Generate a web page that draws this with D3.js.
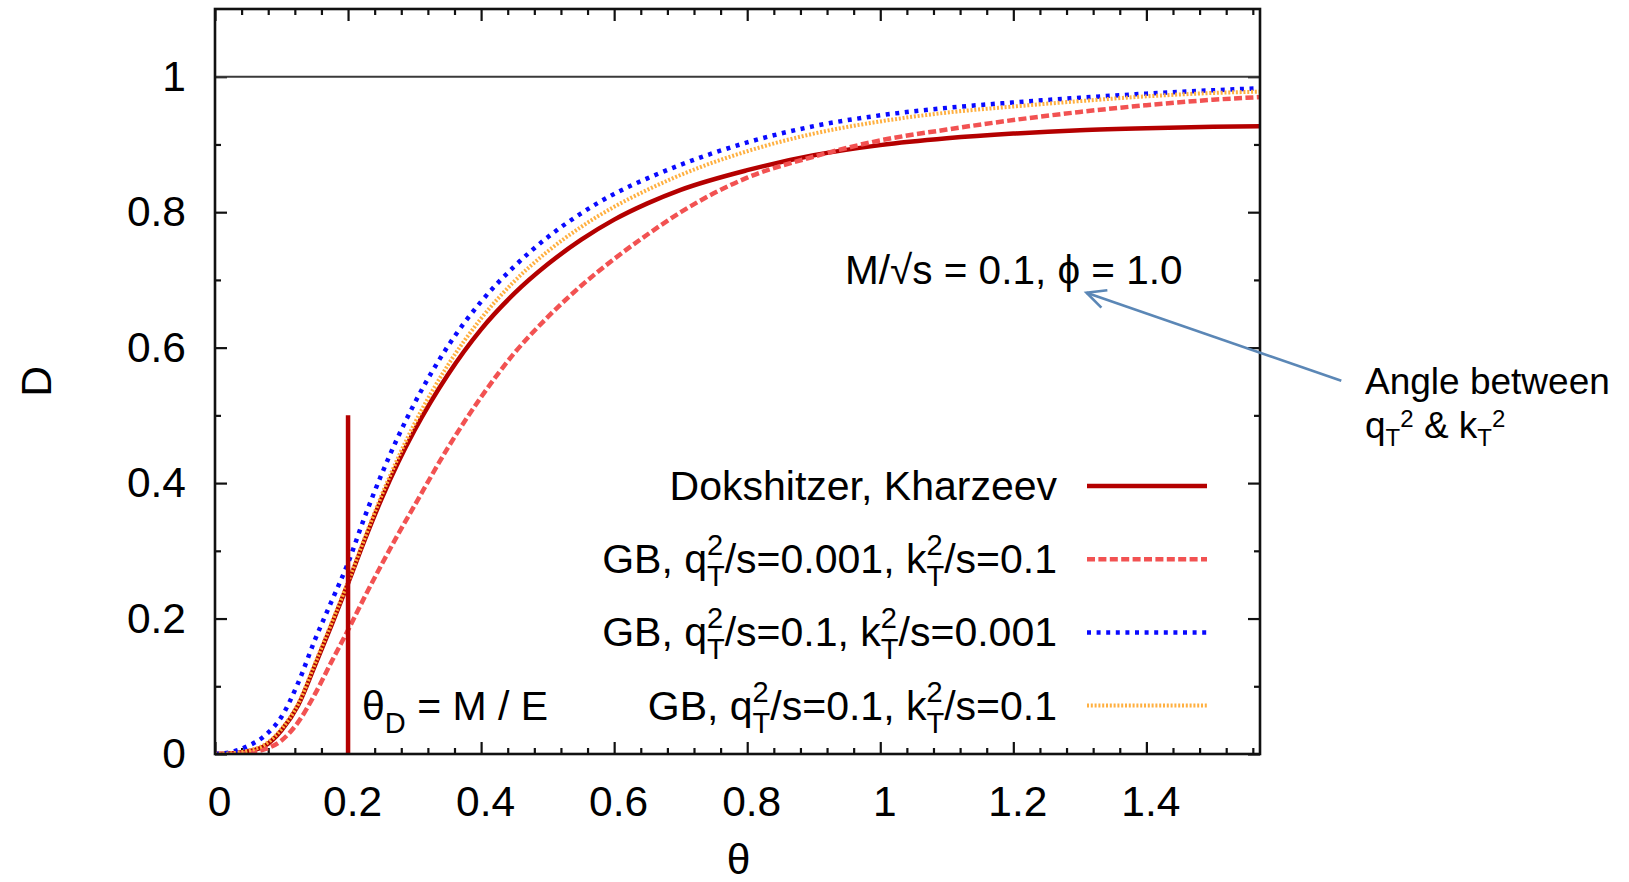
<!DOCTYPE html>
<html>
<head>
<meta charset="utf-8">
<script src="https://cdn.jsdelivr.net/npm/d3@7"></script>
<style>
  html, body { margin: 0; padding: 0; background: #fff; }
  svg { display: block; }
  text { font-family: "Liberation Sans", Arial, Helvetica, sans-serif; fill: #000; white-space: pre; }
</style>
</head>
<body>
<svg id="chart" width="1629" height="882"></svg>
<script>
// Dead-cone suppression factor D versus emission angle θ (M/√s = 0.1, φ = 1.0)
const theta = [0, 0.025, 0.05, 0.075, 0.1, 0.125, 0.15, 0.175, 0.2, 0.225, 0.25, 0.275, 0.3,
  0.35, 0.4, 0.45, 0.5, 0.55, 0.6, 0.65, 0.7, 0.8, 0.9, 1.0, 1.1, 1.2, 1.3, 1.4, 1.5, 1.5708];

const dokshitzerKharzeev = [0, 0.001, 0.004, 0.012, 0.035, 0.072, 0.13, 0.19, 0.252, 0.316, 0.376, 0.43, 0.478,
  0.56, 0.627, 0.68, 0.723, 0.759, 0.789, 0.813, 0.833, 0.862, 0.884, 0.899, 0.909, 0.916, 0.921, 0.924, 0.926, 0.927];

const gbQ0001K01 = [0, 0.0, 0.002, 0.007, 0.02, 0.047, 0.088, 0.136, 0.183, 0.232, 0.279, 0.324, 0.367,
  0.452, 0.527, 0.592, 0.645, 0.691, 0.731, 0.767, 0.8, 0.851, 0.882, 0.906, 0.922, 0.936, 0.948, 0.958, 0.966, 0.97];

const gbQ01K0001 = [0, 0.003, 0.012, 0.027, 0.055, 0.105, 0.168, 0.225, 0.282, 0.35, 0.412, 0.468, 0.518,
  0.602, 0.668, 0.72, 0.763, 0.798, 0.827, 0.85, 0.87, 0.903, 0.927, 0.943, 0.954, 0.962, 0.969, 0.975, 0.98, 0.983];

const gbQ01K01 = [0, 0.001, 0.005, 0.014, 0.037, 0.074, 0.133, 0.193, 0.254, 0.319, 0.381, 0.437, 0.488,
  0.574, 0.643, 0.698, 0.742, 0.778, 0.808, 0.833, 0.855, 0.89, 0.916, 0.934, 0.947, 0.956, 0.964, 0.971, 0.976, 0.978];

const xTickValues = [0, 0.2, 0.4, 0.6, 0.8, 1.0, 1.2, 1.4];
const xTickLabels = ["0", "0.2", "0.4", "0.6", "0.8", "1", "1.2", "1.4"];
const yTickValues = [0, 0.2, 0.4, 0.6, 0.8, 1.0];
const yTickLabels = ["0", "0.2", "0.4", "0.6", "0.8", "1"];

const thetaD = 0.2;        // θ_D = M / E
const thetaDTop = 0.5;     // height of the θ_D marker
const unitLevel = 1.0;     // reference line D = 1

// Legend labels: plain runs plus stacked super/subscripts
const legendLabels = [
  [{ t: "Dokshitzer, Kharzeev" }],
  [{ t: "GB, q" }, { sup: "2", sub: "T" }, { t: "/s=0.001, k" }, { sup: "2", sub: "T" }, { t: "/s=0.1" }],
  [{ t: "GB, q" }, { sup: "2", sub: "T" }, { t: "/s=0.1, k" }, { sup: "2", sub: "T" }, { t: "/s=0.001" }],
  [{ t: "GB, q" }, { sup: "2", sub: "T" }, { t: "/s=0.1, k" }, { sup: "2", sub: "T" }, { t: "/s=0.1" }]
];

const series = [
  { values: dokshitzerKharzeev, color: "#b40000", width: 4.5, dash: null },
  { values: gbQ0001K01, color: "#f25252", width: 4.5, dash: "8,3.4" },
  { values: gbQ01K0001, color: "#0a0aff", width: 4.5, dash: "4,5.6" },
  { values: gbQ01K01, color: "#ffb040", width: 4, dash: "2,1.8" }
];

const svg = d3.select("#chart");
svg.append("rect").attr("width", 1629).attr("height", 882).attr("fill", "#fff");

const plot = { left: 215, right: 1260, top: 9, bottom: 754 };
const x = d3.scaleLinear().domain([0, Math.PI / 2]).range([plot.left, plot.right]);
const y = d3.scaleLinear().domain([0, 1.1]).range([plot.bottom, plot.top]);

const FS = 42.5;

// ---- ticks (inward, mirrored on all four sides) ----
const xMinor = d3.range(0, 40).map(i => +(i * 0.04).toFixed(2)).filter(v => v <= Math.PI / 2 && (Math.round(v * 100) % 20 !== 0));
const yMinor = [0.1, 0.3, 0.5, 0.7, 0.9];

function tickAxis(axisFn, scale, values, size, transform, labels, pad) {
  const a = axisFn(scale).tickValues(values).tickSizeInner(-size).tickSizeOuter(0)
    .tickPadding(pad || 0)
    .tickFormat(labels ? ((d, i) => labels[i]) : () => "");
  const g = svg.append("g").attr("transform", transform).call(a);
  g.select(".domain").remove();
  g.selectAll(".tick line").attr("stroke", "#111").attr("stroke-width", 2.2);
  g.selectAll("text").attr("font-size", FS).attr("font-family", null).attr("fill", "#000");
  return g;
}

const xb = tickAxis(d3.axisBottom, x, xTickValues, 12, `translate(0,${plot.bottom})`, xTickLabels, 32);
xb.selectAll("text").attr("dx", 4);
tickAxis(d3.axisBottom, x, xMinor, 6, `translate(0,${plot.bottom})`);
tickAxis(d3.axisTop, x, xTickValues, 12, `translate(0,${plot.top})`);
tickAxis(d3.axisTop, x, xMinor, 6, `translate(0,${plot.top})`);
tickAxis(d3.axisLeft, y, yTickValues, 12, `translate(${plot.left},0)`, yTickLabels, 29);
tickAxis(d3.axisLeft, y, yMinor, 6, `translate(${plot.left},0)`);
tickAxis(d3.axisRight, y, yTickValues, 12, `translate(${plot.right},0)`);
tickAxis(d3.axisRight, y, yMinor, 6, `translate(${plot.right},0)`);

// reference line D = 1
svg.append("line")
  .attr("x1", x(0)).attr("x2", x(Math.PI / 2))
  .attr("y1", y(unitLevel)).attr("y2", y(unitLevel))
  .attr("stroke", "#3a3a3a").attr("stroke-width", 2);

// ---- curves ----
svg.append("defs").append("clipPath").attr("id", "plotclip")
  .append("rect").attr("x", plot.left).attr("y", plot.top)
  .attr("width", plot.right - plot.left).attr("height", plot.bottom - plot.top);

const line = d3.line().x((d, i) => x(theta[i])).y(d => y(d)).curve(d3.curveMonotoneX);
const curves = svg.append("g").attr("clip-path", "url(#plotclip)");
series.forEach(s => {
  curves.append("path")
    .attr("d", line(s.values))
    .attr("fill", "none")
    .attr("stroke", s.color)
    .attr("stroke-width", s.width)
    .attr("stroke-dasharray", s.dash)
    .attr("stroke-linejoin", "round");
});

// θ_D marker
svg.append("line")
  .attr("x1", x(thetaD)).attr("x2", x(thetaD))
  .attr("y1", y(0)).attr("y2", y(thetaDTop))
  .attr("stroke", "#b40000").attr("stroke-width", 4.5);

// frame
svg.append("rect")
  .attr("x", plot.left).attr("y", plot.top)
  .attr("width", plot.right - plot.left).attr("height", plot.bottom - plot.top)
  .attr("fill", "none").attr("stroke", "#111").attr("stroke-width", 2.6);

// ---- rich text helper ----
// stacked: super- and subscript share one column (gnuplot style); otherwise sequential
function richText(parts, opts) {
  const g = svg.append("g");
  const fs = opts.fontSize, ss = opts.scriptSize;
  let cx = 0;
  parts.forEach(p => {
    if (p.t !== undefined) {
      const t = g.append("text").attr("x", cx).attr("y", 0).attr("font-size", fs).text(p.t);
      cx += t.node().getComputedTextLength();
    } else if (p.sup !== undefined && p.sub !== undefined) {
      const a = g.append("text").attr("x", cx).attr("y", -opts.supShift).attr("font-size", ss).text(p.sup);
      const b = g.append("text").attr("x", cx).attr("y", opts.subShift).attr("font-size", ss).text(p.sub);
      cx += Math.max(a.node().getComputedTextLength(), b.node().getComputedTextLength());
    } else if (p.sup !== undefined) {
      const a = g.append("text").attr("x", cx).attr("y", -opts.supShift).attr("font-size", ss).text(p.sup);
      cx += a.node().getComputedTextLength();
    } else if (p.sub !== undefined) {
      const b = g.append("text").attr("x", cx).attr("y", opts.subShift).attr("font-size", ss).text(p.sub);
      cx += b.node().getComputedTextLength();
    }
  });
  const x0 = opts.anchor === "end" ? opts.x - cx : opts.x;
  g.attr("transform", `translate(${x0},${opts.y})`);
  return g;
}

// ---- legend ----
const legendRight = 1057, legendY0 = 500, legendStep = 73.2;
const sampleX1 = 1087, sampleX2 = 1207;
legendLabels.forEach((parts, i) => {
  const by = legendY0 + i * legendStep;
  richText(parts, { x: legendRight, y: by, anchor: "end", fontSize: 41, scriptSize: 29, supShift: 18, subShift: 13 });
  const s = series[i];
  svg.append("line")
    .attr("x1", sampleX1).attr("x2", sampleX2)
    .attr("y1", by - 14).attr("y2", by - 14)
    .attr("stroke", s.color).attr("stroke-width", s.width)
    .attr("stroke-dasharray", s.dash);
});

// ---- labels inside the plot ----
richText([{ t: "M/√s = 0.1, ϕ = 1.0" }], { x: 845, y: 284, anchor: "start", fontSize: 40.5, scriptSize: 29, supShift: 18, subShift: 13 });
richText([{ t: "θ" }, { sub: "D" }, { t: " = M / E" }], { x: 362, y: 720, anchor: "start", fontSize: 41, scriptSize: 29, supShift: 18, subShift: 13 });

// axis titles
svg.append("text").attr("x", (plot.left + plot.right) / 2 + 1).attr("y", 874)
  .attr("text-anchor", "middle").attr("font-size", FS).text("θ");
svg.append("text").attr("transform", `translate(51,${(plot.top + plot.bottom) / 2})rotate(-90)`)
  .attr("text-anchor", "middle").attr("font-size", FS).text("D");

// ---- callout explaining φ ----
const arrowTip = { t: 1.31, d: 0.681 };
const arrowTail = { t: 1.693, d: 0.551 };
const ax1 = x(arrowTail.t), ay1 = y(arrowTail.d), ax2 = x(arrowTip.t), ay2 = y(arrowTip.d);
const arrowColor = "#5b87b6";
svg.append("line").attr("x1", ax1).attr("y1", ay1).attr("x2", ax2).attr("y2", ay2)
  .attr("stroke", arrowColor).attr("stroke-width", 2.6);
const ang = Math.atan2(ay1 - ay2, ax1 - ax2), headLen = 21, headSpread = 0.45;
svg.append("path")
  .attr("d", d3.line()([
    [ax2 + headLen * Math.cos(ang + headSpread), ay2 + headLen * Math.sin(ang + headSpread)],
    [ax2, ay2],
    [ax2 + headLen * Math.cos(ang - headSpread), ay2 + headLen * Math.sin(ang - headSpread)]
  ]))
  .attr("fill", "none").attr("stroke", arrowColor).attr("stroke-width", 2.6)
  .attr("stroke-linejoin", "miter");

svg.append("text").attr("x", 1365).attr("y", 394).attr("font-size", 37).text("Angle between");
richText([{ t: "q" }, { sub: "T" }, { sup: "2" }, { t: " & k" }, { sub: "T" }, { sup: "2" }],
  { x: 1365, y: 438, anchor: "start", fontSize: 37, scriptSize: 24, supShift: 11, subShift: 8 });
</script>
</body>
</html>
